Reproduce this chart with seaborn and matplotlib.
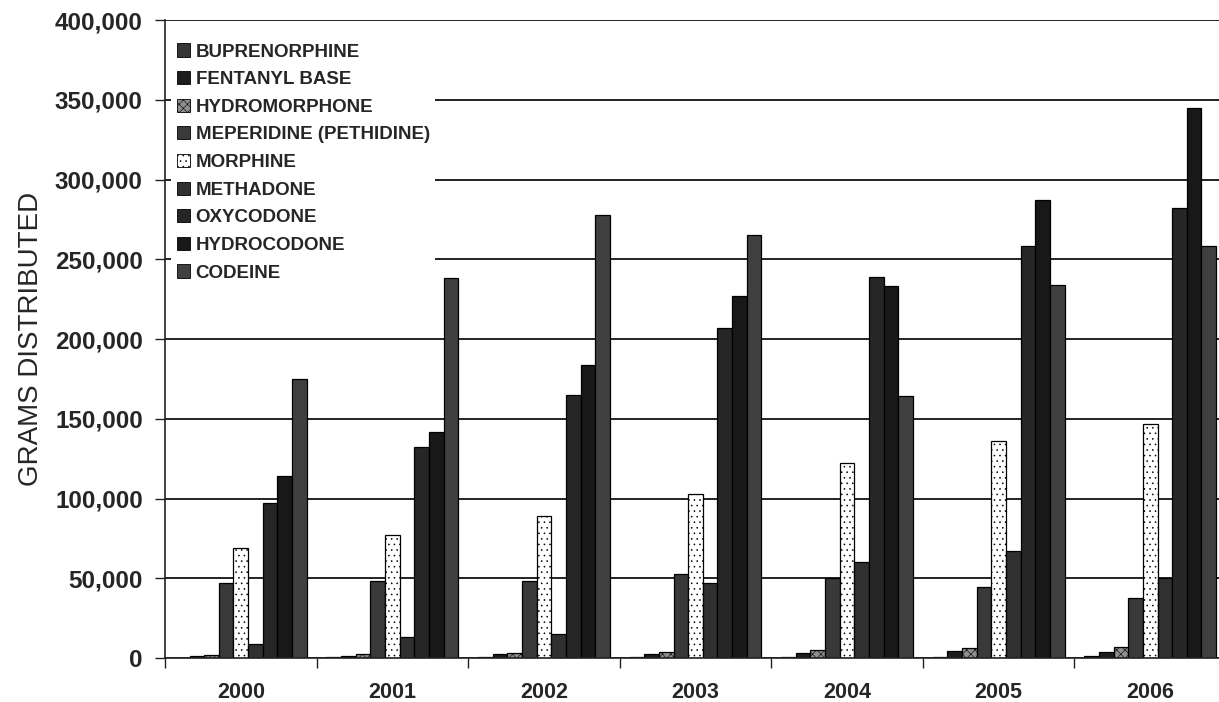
import numpy as np
import pandas as pd
import matplotlib
matplotlib.use("Agg")
import matplotlib.pyplot as plt
from matplotlib.patches import Patch
from matplotlib.ticker import FuncFormatter, MultipleLocator, FixedLocator
import seaborn as sns

years = ["2000", "2001", "2002", "2003", "2004", "2005", "2006"]
drugs = ["BUPRENORPHINE", "FENTANYL BASE", "HYDROMORPHONE", "MEPERIDINE (PETHIDINE)",
         "MORPHINE", "METHADONE", "OXYCODONE", "HYDROCODONE", "CODEINE"]
bup = [300, 400, 500, 600, 700, 800, 1000]
fen = [1200, 1500, 2200, 2800, 3300, 4200, 4000]
hydm = [2000, 2800, 3400, 4000, 5000, 6200, 6600]
mep = [47000, 48500, 48500, 52500, 50000, 44500, 37500]
mor = [69000, 77000, 89000, 103000, 122000, 136000, 147000]
meth = [9000, 13000, 15000, 47000, 60000, 67000, 50000]
oxy = [97000, 132000, 165000, 207000, 239000, 258000, 282000]
hydro = [114000, 142000, 184000, 227000, 233000, 287000, 345000]
cod = [175000, 238000, 278000, 265000, 164000, 234000, 258000]
series = [bup, fen, hydm, mep, mor, meth, oxy, hydro, cod]

colors = ["#363636", "#1c1c1c", "#8e8e8e", "#393939", "#ffffff",
          "#303030", "#262626", "#181818", "#404040"]
hatches = [None, None, "xxxx", None, "...", None, None, None, None]

rows = []
for d, vals in zip(drugs, series):
    for y, v in zip(years, vals):
        rows.append({"year": y, "drug": d, "grams": v})
df = pd.DataFrame(rows)

sns.set_style("white")
plt.rcParams["font.family"] = ["Liberation Sans", "DejaVu Sans"]
plt.rcParams["hatch.linewidth"] = 0.4

W, H = 1219, 702
fig = plt.figure(figsize=(W / 100, H / 100), dpi=100)
ax_left, ax_right, ax_top, ax_bot = 165, 1226, 20, 658
ax = fig.add_axes([ax_left / W, (H - ax_bot) / H, (ax_right - ax_left) / W, (ax_bot - ax_top) / H])

sns.barplot(data=df, x="year", y="grams", hue="drug", order=years, hue_order=drugs,
            palette=colors, saturation=1, width=0.87, edgecolor="black", linewidth=0.9,
            legend=False, ax=ax, errorbar=None)

for cont, h in zip(ax.containers, hatches):
    for p in cont:
        if h:
            p.set_hatch(h)

ax.set_xlim(-0.5, 6.5)
ax.set_ylim(0, 400000)
ax.yaxis.set_major_locator(MultipleLocator(50000))
ax.yaxis.set_major_formatter(FuncFormatter(lambda v, p: f"{int(v):,}"))
ax.set_axisbelow(True)
ax.grid(axis="y", color="#111111", linewidth=1.3)
ax.grid(axis="x", visible=False)
for s in ["top", "right"]:
    ax.spines[s].set_visible(False)
ax.spines["left"].set_color("#222222")
ax.spines["left"].set_linewidth(1.2)
ax.spines["bottom"].set_color("#222222")
ax.spines["bottom"].set_linewidth(1.2)

ax.tick_params(axis="y", which="major", left=True, length=7, width=1.0, pad=9,
               labelsize=17.5, color="#222222")
for t in ax.get_yticklabels():
    t.set_fontweight("bold")
ax.tick_params(axis="x", which="major", bottom=False, length=0, pad=17, labelsize=15.5)
ax.xaxis.set_minor_locator(FixedLocator(np.arange(-0.5, 7.0, 1.0)))
ax.tick_params(axis="x", which="minor", bottom=True, length=7, width=1.0, color="#222222")
for t in ax.get_xticklabels():
    t.set_fontweight("bold")

ax.set_xlabel("")
ax.set_ylabel("GRAMS DISTRIBUTED", fontsize=20, fontweight="normal", labelpad=8)

handles = [Patch(facecolor=c, edgecolor="black", linewidth=0.6, hatch=h) for c, h in zip(colors, hatches)]
leg = ax.legend(handles, drugs, loc="upper left", bbox_to_anchor=(0.006, 0.972),
                frameon=True, fancybox=False, framealpha=1, edgecolor="white",
                prop={"weight": "bold", "size": 13.5}, handlelength=0.7, handleheight=0.7,
                handletextpad=0.3, labelspacing=0.56, borderpad=0.3, borderaxespad=0)
leg.get_frame().set_linewidth(0)

fig.savefig("out.png", dpi=100)
